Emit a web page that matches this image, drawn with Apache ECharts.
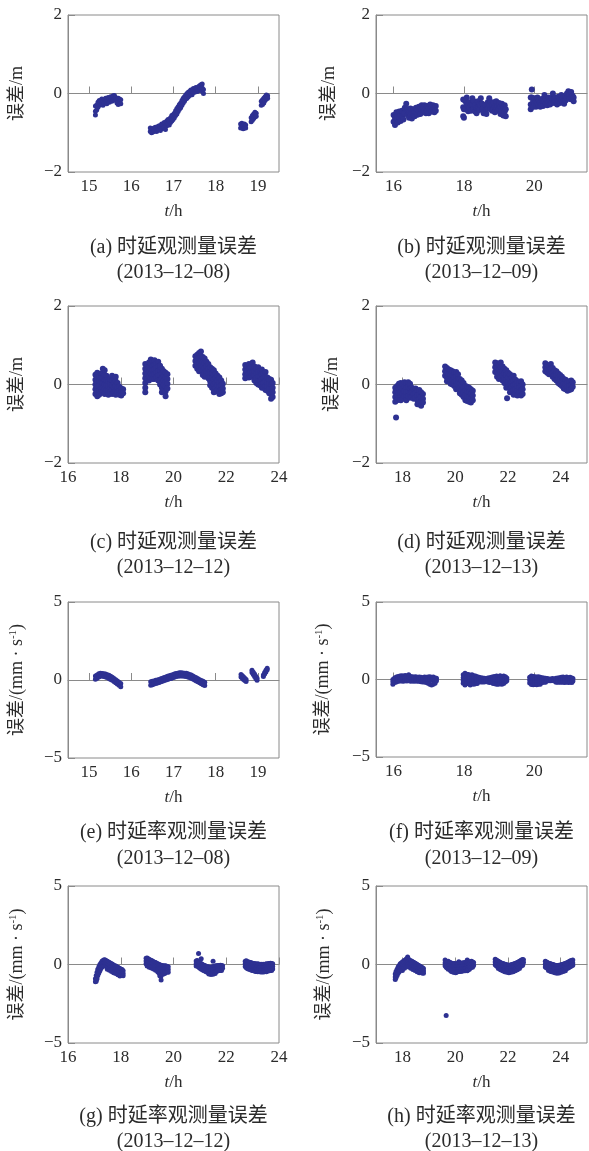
<!DOCTYPE html>
<html>
<head>
<meta charset="utf-8">
<script src="https://cdn.jsdelivr.net/npm/echarts@6/dist/echarts.min.js"></script>
<style>
html,body{margin:0;padding:0;background:#fff;}
#chart{width:589px;height:1151px;}
</style>
</head>
<body>
<div id="chart"></div>
<script>
// ---- DATA: each column = [t (h), error values read at that time ...] ----
const delay1208 = [
  [15.15,-0.32,-0.45,-0.55],[15.18,-0.30,-0.42],[15.21,-0.22,-0.35],[15.24,-0.18,-0.30],[15.27,-0.20,-0.28],
  [15.30,-0.14,-0.26],[15.33,-0.20,-0.30],[15.36,-0.15,-0.24],[15.39,-0.12,-0.22],[15.42,-0.16,-0.26],
  [15.45,-0.10,-0.20],[15.48,-0.13,-0.22],[15.51,-0.08,-0.18],[15.54,-0.12,-0.20],[15.57,-0.06,-0.16],
  [15.60,-0.05,-0.14],[15.63,-0.10,-0.18],[15.66,-0.14,-0.24],[15.69,-0.12,-0.28],[15.72,-0.14,-0.22],[15.75,-0.16,-0.26],
  [16.45,-0.88,-0.97],[16.48,-0.92,-1.00],[16.51,-0.90,-0.98],[16.54,-0.88,-0.96],[16.57,-0.86,-0.95],
  [16.60,-0.88,-0.97],[16.63,-0.84,-0.93],[16.66,-0.82,-0.92],[16.69,-0.85,-0.94],[16.72,-0.78,-0.90],
  [16.75,-0.80,-0.88],[16.78,-0.74,-0.86],[16.81,-0.76,-0.92],[16.84,-0.70,-0.82],[16.87,-0.66,-0.78],
  [16.90,-0.68,-0.80],[16.93,-0.62,-0.74],[16.96,-0.56,-0.70],[16.99,-0.54,-0.66],[17.02,-0.50,-0.62],
  [17.05,-0.44,-0.56],[17.08,-0.38,-0.52],[17.11,-0.34,-0.46],[17.14,-0.28,-0.40],[17.17,-0.24,-0.36],
  [17.20,-0.18,-0.30],[17.23,-0.12,-0.24],[17.26,-0.08,-0.20],[17.29,-0.04,-0.14],[17.32,0.00,-0.12],
  [17.35,0.03,-0.08],[17.38,0.05,-0.05],[17.41,0.09,-0.01],[17.44,0.07,-0.03],[17.47,0.13,0.03],
  [17.50,0.11,0.03],[17.53,0.15,0.05],[17.56,0.13,0.05],[17.59,0.17,0.07],[17.62,0.20,0.10],
  [17.65,0.22,0.12],[17.68,0.24,0.14,0.06],[17.71,0.10,0.00],
  [18.59,-0.78,-0.88],[18.62,-0.76,-0.86],[18.65,-0.80,-0.90],[18.68,-0.78,-0.88],[18.71,-0.80,-0.88],
  [18.84,-0.62,-0.72],[18.87,-0.56,-0.68],[18.90,-0.52,-0.64],[18.93,-0.48,-0.60],[18.96,-0.50,-0.58],
  [19.08,-0.20,-0.30],[19.11,-0.16,-0.28],[19.14,-0.12,-0.24],[19.17,-0.08,-0.18],[19.20,-0.04,-0.14],[19.23,-0.06,-0.12]
];
const delay1209 = [
  [16.00,-0.55,-0.72],[16.04,-0.62,-0.80],[16.08,-0.48,-0.62],[16.12,-0.58,-0.74],[16.16,-0.46,-0.60],
  [16.20,-0.55,-0.70],[16.24,-0.44,-0.58],[16.28,-0.50,-0.66],[16.32,-0.36,-0.50],[16.36,-0.26,-0.40],
  [16.40,-0.40,-0.55],[16.44,-0.48,-0.62],[16.48,-0.38,-0.52],[16.52,-0.50,-0.64],[16.56,-0.40,-0.54],
  [16.60,-0.48,-0.58],[16.64,-0.36,-0.48],[16.68,-0.42,-0.54],[16.72,-0.34,-0.46],[16.76,-0.40,-0.52],
  [16.80,-0.30,-0.42],[16.84,-0.36,-0.48],[16.88,-0.30,-0.44],[16.92,-0.38,-0.50],[16.96,-0.32,-0.44],
  [17.00,-0.36,-0.50],[17.04,-0.28,-0.40],[17.08,-0.34,-0.46],[17.12,-0.30,-0.42],[17.16,-0.36,-0.48],[17.20,-0.32,-0.44],
  [17.98,-0.15,-0.35,-0.58],[18.00,-0.40,-0.62],[18.04,-0.20,-0.40],[18.08,-0.10,-0.30],[18.12,-0.30,-0.45],
  [18.16,-0.22,-0.36],[18.20,-0.30,-0.44],[18.24,-0.12,-0.28],[18.28,-0.20,-0.38],[18.32,-0.30,-0.46],
  [18.36,-0.36,-0.50],[18.40,-0.20,-0.36],[18.44,-0.28,-0.42],[18.48,-0.12,-0.30],[18.52,-0.26,-0.40],
  [18.56,-0.36,-0.50],[18.60,-0.30,-0.44],[18.64,-0.40,-0.52],[18.68,-0.22,-0.38],[18.72,-0.12,-0.28],
  [18.76,-0.22,-0.40],[18.80,-0.30,-0.44],[18.84,-0.22,-0.38],[18.88,-0.34,-0.48],[18.92,-0.20,-0.36],
  [18.96,-0.32,-0.44],[19.00,-0.24,-0.40],[19.04,-0.34,-0.52],[19.08,-0.26,-0.44],[19.12,-0.36,-0.56],
  [19.16,-0.30,-0.46],[19.19,-0.40,-0.58],
  [19.90,-0.10,-0.28,-0.40],[19.93,0.10,-0.10,-0.30],[19.97,-0.20,-0.34],[20.01,-0.12,-0.26],[20.05,-0.22,-0.34],
  [20.09,-0.10,-0.24],[20.13,-0.18,-0.30],[20.17,-0.22,-0.34],[20.21,-0.14,-0.26],[20.25,-0.20,-0.32],
  [20.29,-0.04,-0.20],[20.33,-0.14,-0.26],[20.37,-0.18,-0.30],[20.41,-0.10,-0.22],[20.45,-0.18,-0.28],
  [20.49,-0.12,-0.24],[20.53,0.00,-0.16],[20.57,-0.14,-0.24],[20.61,-0.10,-0.20],[20.65,-0.18,-0.28],
  [20.69,-0.08,-0.20],[20.73,-0.14,-0.24],[20.77,-0.04,-0.16],[20.81,-0.12,-0.22],[20.85,-0.16,-0.26],
  [20.89,-0.08,-0.18],[20.93,0.00,-0.12],[20.97,0.06,-0.08],[21.01,-0.04,-0.14],[21.05,0.04,-0.10],
  [21.09,-0.06,-0.16],[21.12,-0.10,-0.20]
];
const delay1212 = [
  [17.04,0.25,0.12,0.00,-0.12,-0.24],[17.11,0.30,0.18,0.06,-0.06,-0.18,-0.30],[17.18,0.20,0.08,-0.04,-0.16,-0.26],
  [17.25,0.28,0.16,0.04,-0.08,-0.20],[17.32,0.40,0.28,0.16,0.04,-0.08,-0.18],[17.39,0.36,0.24,0.12,0.00,-0.12,-0.24],
  [17.46,0.22,0.10,-0.02,-0.14],[17.53,0.08,-0.04,-0.16,-0.26],[17.60,0.14,0.02,-0.10,-0.20],
  [17.67,0.22,0.10,-0.02,-0.14,-0.24],[17.74,0.16,0.04,-0.08,-0.20],[17.81,0.20,0.08,-0.04,-0.16,-0.26],
  [17.88,0.04,-0.08,-0.20],[17.95,-0.06,-0.16,-0.26],[18.02,-0.10,-0.20,-0.28],[18.09,-0.12,-0.22],
  [18.93,0.52,0.40,0.28,0.16,0.04,-0.08,-0.20],[19.00,0.50,0.38,0.26,0.14],[19.07,0.56,0.44,0.32,0.20,0.10],
  [19.14,0.64,0.52,0.40,0.28,0.16],[19.21,0.60,0.48,0.36,0.24,0.14],[19.28,0.62,0.50,0.38,0.26,0.14],
  [19.35,0.54,0.42,0.30,0.18],[19.42,0.58,0.46,0.34,0.22,0.10],[19.49,0.48,0.36,0.24,0.12,0.00],
  [19.56,0.40,0.28,0.16,0.04,-0.08,-0.20],[19.63,0.34,0.22,0.10,-0.02,-0.14],[19.70,0.30,0.18,0.06,-0.06,-0.18,-0.30],
  [19.77,0.26,0.14,0.02,-0.10],
  [20.83,0.72,0.60,0.48],[20.90,0.76,0.64,0.52,0.40],[20.97,0.80,0.68,0.56,0.44,0.34],[21.04,0.84,0.72,0.60,0.48,0.36],
  [21.11,0.70,0.58,0.46,0.34,0.24],[21.18,0.66,0.54,0.42,0.30,0.20],[21.25,0.58,0.46,0.34,0.22],
  [21.32,0.52,0.40,0.28,0.16],[21.39,0.44,0.32,0.20,0.08,-0.02],[21.46,0.40,0.28,0.16,0.04,-0.08],
  [21.53,0.36,0.24,0.12,0.00,-0.12,-0.20],[21.60,0.28,0.16,0.04,-0.08,-0.18],[21.67,0.22,0.10,-0.02,-0.14],
  [21.74,0.18,0.06,-0.06,-0.18,-0.24],[21.81,0.10,-0.02,-0.14,-0.22],[21.87,0.02,-0.10,-0.20],
  [22.72,0.50,0.38,0.26,0.16],[22.79,0.46,0.34,0.22],[22.86,0.52,0.40,0.28,0.18],[22.93,0.44,0.32,0.20],
  [23.00,0.56,0.44,0.32,0.20],[23.07,0.46,0.34,0.22,0.10],[23.14,0.40,0.28,0.16,0.04],[23.21,0.44,0.32,0.20,0.08,0.00],
  [23.28,0.34,0.22,0.10,-0.02],[23.35,0.38,0.26,0.14,0.02,-0.08],[23.42,0.28,0.16,0.04,-0.08],
  [23.49,0.32,0.20,0.08,-0.04,-0.14],[23.56,0.18,0.06,-0.06,-0.16],[23.63,0.14,0.02,-0.10,-0.22],
  [23.70,0.12,0.00,-0.12,-0.24,-0.36],[23.76,0.04,-0.08,-0.20,-0.32]
];
const delay1213 = [
  [17.73,-0.08,-0.20,-0.32,-0.44],[17.76,-0.84],[17.80,-0.04,-0.16,-0.28,-0.40],[17.87,0.02,-0.10,-0.22,-0.34],
  [17.94,0.04,-0.08,-0.20,-0.32,-0.40],[18.01,0.00,-0.12,-0.24,-0.36],[18.08,0.06,-0.06,-0.18,-0.30],
  [18.15,0.04,-0.08,-0.20,-0.32,-0.40],[18.22,0.06,-0.06,-0.18,-0.30],[18.29,0.02,-0.10,-0.22,-0.34],
  [18.36,-0.08,-0.20,-0.32],[18.43,-0.12,-0.24,-0.36],[18.50,-0.10,-0.22,-0.34],[18.57,-0.16,-0.28,-0.40,-0.50],
  [18.64,-0.14,-0.26,-0.38,-0.50],[18.71,-0.20,-0.32,-0.44,-0.54],[18.78,-0.24,-0.36,-0.46],
  [19.62,0.46,0.34,0.22],[19.69,0.42,0.30,0.18,0.08],[19.76,0.38,0.26,0.14],[19.83,0.36,0.24,0.12,0.02],
  [19.90,0.34,0.22,0.10,0.00],[19.97,0.30,0.18,0.06,-0.04],[20.04,0.32,0.20,0.08,-0.04,-0.12],
  [20.11,0.26,0.14,0.02,-0.10],[20.18,0.14,0.02,-0.10,-0.22],[20.25,0.10,-0.02,-0.14,-0.26],
  [20.32,0.04,-0.08,-0.20,-0.32],[20.39,-0.04,-0.16,-0.28,-0.40],[20.46,-0.06,-0.18,-0.30,-0.42],
  [20.53,-0.08,-0.20,-0.32,-0.44],[20.60,-0.12,-0.24,-0.36,-0.46],[20.67,-0.16,-0.28,-0.40],
  [21.52,0.56,0.44,0.32],[21.59,0.54,0.42,0.30,0.20],[21.66,0.50,0.38,0.26,0.14],[21.73,0.56,0.44,0.32,0.20],
  [21.80,0.46,0.34,0.22,0.10],[21.87,0.40,0.28,0.16,0.04],[21.94,0.36,0.24,0.12,0.00,-0.08],[21.97,-0.35],
  [22.01,0.30,0.18,0.06,-0.06],[22.08,0.26,0.14,0.02,-0.10,-0.20],[22.15,0.18,0.06,-0.06,-0.18],
  [22.22,0.22,0.10,-0.02,-0.14,-0.26],[22.29,0.12,0.00,-0.12,-0.24],[22.36,0.08,-0.04,-0.16,-0.28],
  [22.43,0.04,-0.08,-0.20],[22.50,0.08,-0.04,-0.16,-0.28],[22.56,0.00,-0.12,-0.24],
  [23.42,0.54,0.44,0.34],[23.49,0.50,0.40,0.30],[23.56,0.48,0.36,0.26],[23.63,0.52,0.40,0.28],
  [23.70,0.42,0.30,0.20],[23.77,0.36,0.24,0.14],[23.84,0.34,0.22,0.10],[23.91,0.28,0.16,0.04],
  [23.98,0.24,0.12,0.00],[24.05,0.20,0.08,-0.04],[24.12,0.14,0.02,-0.10],[24.19,0.12,0.00,-0.12],
  [24.26,0.06,-0.06,-0.16],[24.33,0.08,-0.04,-0.14],[24.40,0.10,-0.02,-0.12],[24.46,0.06,-0.06]
];
const rate1208 = [
  [15.15,0.25,0.05],[15.19,0.32,0.12],[15.23,0.40,0.20],[15.27,0.44,0.24],[15.31,0.42,0.26],[15.35,0.40,0.22],
  [15.39,0.38,0.20],[15.43,0.34,0.16],[15.47,0.30,0.10],[15.51,0.24,0.04],[15.55,0.18,-0.02],[15.59,0.10,-0.10],
  [15.63,0.02,-0.18],[15.67,-0.06,-0.26],[15.71,-0.14,-0.34],[15.75,-0.22,-0.44],
  [16.46,-0.12,-0.34],[16.50,-0.08,-0.30],[16.54,-0.06,-0.26],[16.58,-0.02,-0.22],[16.62,0.00,-0.20],
  [16.66,0.04,-0.16],[16.70,0.08,-0.12],[16.74,0.12,-0.08],[16.78,0.16,-0.04],[16.82,0.20,0.00],
  [16.86,0.24,0.04],[16.90,0.28,0.08],[16.94,0.30,0.10],[16.98,0.34,0.14],[17.02,0.38,0.18],
  [17.06,0.42,0.22],[17.10,0.44,0.24],[17.14,0.46,0.26],[17.18,0.46,0.26],[17.22,0.45,0.25],
  [17.26,0.44,0.24],[17.30,0.43,0.23],[17.34,0.40,0.20],[17.38,0.36,0.16],[17.42,0.32,0.12],
  [17.46,0.26,0.06],[17.50,0.20,0.00],[17.54,0.14,-0.06],[17.58,0.08,-0.12],[17.62,0.02,-0.18],
  [17.66,-0.04,-0.24],[17.70,-0.08,-0.30],[17.74,-0.14,-0.36],
  [18.60,0.36,0.20],[18.63,0.28,0.12],[18.66,0.20,0.04],[18.69,0.12,-0.04],[18.72,0.04,-0.10],
  [18.86,0.62,0.48],[18.89,0.50,0.36],[18.92,0.38,0.22],[18.95,0.24,0.10],[18.98,0.12,-0.02],
  [19.13,0.22,0.32],[19.16,0.38,0.48],[19.19,0.52,0.62],[19.22,0.66,0.76]
];
const rate1209 = [
  [15.98,0.00,-0.15,-0.30],[16.03,0.10,-0.05,-0.20],[16.08,0.16,0.00,-0.16],[16.13,0.20,0.04,-0.12],
  [16.18,0.22,0.06,-0.10],[16.23,0.24,0.08,-0.10],[16.28,0.22,0.06,-0.12],[16.33,0.26,0.10,-0.08],
  [16.38,0.22,0.06,-0.10],[16.43,0.30,0.12,-0.06],[16.48,0.20,0.04,-0.12],[16.53,0.18,0.02,-0.10],
  [16.58,0.16,0.02,-0.12],[16.63,0.18,0.04,-0.10],[16.68,0.14,0.00,-0.12],[16.73,0.16,0.02,-0.12],
  [16.78,0.14,0.00,-0.14],[16.83,0.12,-0.02,-0.16],[16.88,0.16,0.00,-0.16],[16.93,0.14,-0.02,-0.20],
  [16.98,0.16,-0.02,-0.24],[17.03,0.18,0.00,-0.30],[17.08,0.14,-0.04,-0.36],[17.13,0.16,-0.02,-0.30],
  [17.18,0.10,-0.06,-0.24],[17.22,0.08,-0.08],
  [17.98,0.30,0.12,-0.06,-0.24],[18.03,0.40,0.20,0.00,-0.20,-0.36],[18.08,0.34,0.14,-0.06,-0.26],
  [18.13,0.32,0.12,-0.08,-0.28],[18.18,0.28,0.10,-0.08,-0.26,-0.36],[18.23,0.30,0.10,-0.10,-0.28],
  [18.28,0.24,0.06,-0.12,-0.30],[18.33,0.22,0.04,-0.14,-0.28],[18.38,0.18,0.02,-0.14,-0.26],
  [18.43,0.14,0.00,-0.14],[18.48,0.12,-0.02,-0.16],[18.53,0.10,-0.04,-0.16],[18.58,0.08,-0.06,-0.16],
  [18.63,0.06,-0.08],[18.68,0.10,-0.04,-0.16],[18.73,0.12,-0.04,-0.20],[18.78,0.14,-0.02,-0.18],
  [18.83,0.18,0.02,-0.16,-0.26],[18.88,0.20,0.04,-0.14,-0.28],[18.93,0.22,0.04,-0.14,-0.30],
  [18.98,0.18,0.02,-0.16,-0.30],[19.03,0.24,0.06,-0.12,-0.28],[19.08,0.20,0.02,-0.16,-0.30],
  [19.13,0.22,0.04,-0.14,-0.26],[19.18,0.18,0.02,-0.16],[19.22,0.10,-0.08],
  [19.87,0.14,-0.04,-0.22],[19.92,0.22,0.04,-0.14,-0.32],[19.97,0.20,0.02,-0.16,-0.34],
  [20.02,0.18,0.00,-0.18,-0.32],[20.07,0.16,-0.02,-0.20,-0.34],[20.12,0.18,0.00,-0.18,-0.30],
  [20.17,0.14,-0.02,-0.18,-0.30],[20.22,0.12,-0.04,-0.20],[20.27,0.10,-0.04,-0.18],[20.32,0.08,-0.06,-0.18],
  [20.37,0.06,-0.08],[20.42,0.04,-0.08],[20.47,0.04,-0.08],[20.52,0.06,-0.06],[20.57,0.04,-0.10],
  [20.62,0.08,-0.06,-0.18],[20.67,0.10,-0.06,-0.18],[20.72,0.12,-0.04,-0.18],[20.77,0.14,-0.02,-0.18],
  [20.82,0.16,0.00,-0.18],[20.87,0.12,-0.04,-0.20],[20.92,0.16,0.00,-0.16],[20.97,0.12,-0.04,-0.20],
  [21.02,0.14,-0.02,-0.18],[21.07,0.10,-0.06,-0.20],[21.10,0.06,-0.10]
];
const rate1212 = [
  [17.04,-0.90,-1.10],[17.07,-0.70,-0.90,-1.06],[17.10,-0.50,-0.70,-0.90],[17.13,-0.30,-0.50,-0.70],
  [17.17,-0.14,-0.34,-0.54],[17.21,0.00,-0.20,-0.40],[17.25,0.10,-0.08,-0.26],[17.29,0.20,0.02,-0.16],
  [17.33,0.26,0.08,-0.10],[17.37,0.30,0.12,-0.06],[17.41,0.28,0.10,-0.08],[17.45,0.24,0.06,-0.12],
  [17.49,0.20,0.02,-0.16,-0.30],[17.53,0.16,-0.02,-0.20],[17.57,0.12,-0.06,-0.24,-0.36],[17.61,0.08,-0.10,-0.28],
  [17.65,0.04,-0.14,-0.32,-0.44],[17.69,0.02,-0.16,-0.34],[17.73,-0.04,-0.22,-0.40,-0.52],[17.77,-0.08,-0.26,-0.44],
  [17.81,-0.10,-0.28,-0.46,-0.58],[17.85,-0.14,-0.32,-0.50],[17.89,-0.18,-0.36,-0.54,-0.66],[17.93,-0.22,-0.40,-0.58],
  [17.97,-0.26,-0.44,-0.62,-0.74],[18.01,-0.30,-0.48,-0.66],[18.05,-0.32,-0.50,-0.68],[18.09,-0.40,-0.58,-0.72],
  [18.96,0.40,0.22,0.04],[19.00,0.42,0.24,0.06,-0.10],[19.04,0.36,0.18,0.00],[19.08,0.32,0.14,-0.04,-0.18],
  [19.12,0.28,0.10,-0.08],[19.16,0.26,0.08,-0.10,-0.22],[19.20,0.22,0.04,-0.14],[19.24,0.18,0.00,-0.18,-0.28],
  [19.28,0.14,-0.04,-0.22],[19.32,0.12,-0.06,-0.24,-0.36],[19.36,0.08,-0.10,-0.28],[19.40,0.04,-0.14,-0.32,-0.46],
  [19.44,0.02,-0.16,-0.34,-0.52],[19.48,-0.02,-0.20,-0.38,-0.56,-0.72],[19.52,-0.04,-0.22,-0.40,-0.58,-0.76],
  [19.53,-0.98],[19.56,-0.06,-0.24,-0.42,-0.60],[19.60,-0.08,-0.26,-0.44,-0.62],[19.64,-0.10,-0.28,-0.46,-0.58],
  [19.68,-0.08,-0.26,-0.44,-0.56],[19.72,-0.10,-0.28,-0.46],[19.76,-0.12,-0.30,-0.48],[19.80,-0.14,-0.32,-0.50],
  [20.86,0.22,0.04,-0.10],[20.90,0.26,0.08,-0.08],[20.95,0.70],[20.94,0.18,0.00,-0.14],[20.98,0.12,-0.06,-0.20],
  [21.02,0.08,-0.10,-0.26],[21.05,0.36],[21.06,0.04,-0.14,-0.30],[21.10,0.00,-0.18,-0.34],[21.14,-0.04,-0.22,-0.38],
  [21.18,-0.06,-0.24,-0.40],[21.22,-0.10,-0.28,-0.44],[21.26,-0.12,-0.30,-0.48],[21.30,-0.14,-0.32,-0.50],
  [21.34,-0.16,-0.34,-0.52,-0.60],[21.38,-0.18,-0.36,-0.54],[21.42,-0.18,-0.36,-0.56,-0.64],[21.46,-0.16,-0.34,-0.54],
  [21.50,0.20,-0.14,-0.32,-0.52,-0.62],[21.54,-0.12,-0.30,-0.50],[21.58,-0.10,-0.28,-0.48,-0.58],[21.62,-0.08,-0.26,-0.44],
  [21.66,-0.08,-0.24,-0.42],[21.70,-0.06,-0.22,-0.40],[21.74,-0.06,-0.22,-0.38],[21.78,-0.04,-0.20,-0.36],
  [21.82,-0.06,-0.22,-0.38],[21.86,-0.08,-0.24],
  [22.72,0.20,0.04,-0.12],[22.76,0.24,0.08,-0.08,-0.20],[22.80,0.18,0.02,-0.14,-0.26],[22.84,0.16,0.00,-0.16,-0.28],
  [22.88,0.14,-0.02,-0.18,-0.30],[22.92,0.12,-0.04,-0.20,-0.32],[22.96,0.10,-0.06,-0.22,-0.36],[23.00,0.08,-0.08,-0.24,-0.38],
  [23.04,0.06,-0.10,-0.26,-0.40],[23.08,0.04,-0.12,-0.28,-0.42],[23.12,0.04,-0.12,-0.28,-0.44],[23.16,0.02,-0.14,-0.30,-0.44],
  [23.20,0.04,-0.12,-0.28,-0.46],[23.24,0.02,-0.14,-0.30,-0.44],[23.28,0.00,-0.16,-0.32,-0.46],[23.32,0.02,-0.14,-0.30,-0.48],
  [23.36,0.00,-0.16,-0.32,-0.46],[23.40,0.02,-0.14,-0.30,-0.48],[23.44,0.00,-0.16,-0.32,-0.46],[23.48,0.02,-0.14,-0.30,-0.44],
  [23.52,0.04,-0.12,-0.28,-0.46],[23.56,0.02,-0.14,-0.30,-0.42],[23.60,0.06,-0.10,-0.26,-0.40],[23.64,0.04,-0.12,-0.28,-0.40],
  [23.68,0.08,-0.08,-0.24,-0.36],[23.72,0.06,-0.10,-0.26,-0.38],[23.76,0.04,-0.12,-0.28]
];
const rate1213 = [
  [17.73,-0.60,-0.80,-0.96],[17.76,-0.44,-0.64,-0.84],[17.80,-0.30,-0.50,-0.70],[17.84,-0.16,-0.36,-0.56],
  [17.88,-0.06,-0.26,-0.46],[17.92,0.04,-0.16,-0.36],[17.96,0.10,-0.08,-0.28],[18.00,0.16,-0.02,-0.20,-0.38],
  [18.04,0.20,0.02,-0.16],[18.08,0.26,0.08,-0.10,-0.24],[18.12,0.30,0.12,-0.06],[18.16,0.36,0.18,0.00,-0.14],
  [18.20,0.48,0.30,0.12,-0.06],[18.24,0.34,0.16,-0.02,-0.16],[18.28,0.26,0.08,-0.10],[18.32,0.24,0.06,-0.12,-0.24],
  [18.36,0.20,0.02,-0.16],[18.40,0.16,-0.02,-0.20,-0.32],[18.44,0.12,-0.06,-0.24],[18.48,0.08,-0.10,-0.28,-0.38],
  [18.52,0.04,-0.14,-0.32],[18.56,0.00,-0.18,-0.36,-0.46],[18.60,-0.04,-0.22,-0.40],[18.64,-0.08,-0.26,-0.44,-0.52],
  [18.68,-0.12,-0.30,-0.48],[18.72,-0.16,-0.34,-0.52],[18.76,-0.20,-0.38,-0.54],[18.80,-0.26,-0.42,-0.56],
  [19.62,0.28,0.10,-0.08],[19.66,-3.25],[19.66,0.18,0.00,-0.18],[19.70,0.14,-0.04,-0.22],[19.74,0.20,0.02,-0.16,-0.30],
  [19.78,0.10,-0.08,-0.26],[19.82,0.12,-0.06,-0.24,-0.38],[19.86,0.08,-0.10,-0.28,-0.44],[19.90,0.06,-0.12,-0.30,-0.46],
  [19.94,0.04,-0.14,-0.32,-0.50],[19.98,0.06,-0.12,-0.30,-0.48],[20.02,0.02,-0.16,-0.34,-0.52],[20.06,0.04,-0.14,-0.32,-0.48],
  [20.10,0.06,-0.12,-0.30,-0.46],[20.14,0.18,0.02,-0.14,-0.32,-0.44],[20.18,0.06,-0.12,-0.30,-0.42],[20.22,0.08,-0.10,-0.28,-0.44],
  [20.26,0.10,-0.08,-0.26,-0.40],[20.30,0.08,-0.10,-0.28,-0.42],[20.34,0.12,-0.06,-0.24,-0.38],[20.38,0.10,-0.08,-0.26,-0.40],
  [20.42,0.14,-0.04,-0.22,-0.36],[20.46,0.28,0.10,-0.08,-0.26,-0.40],[20.50,0.16,-0.02,-0.20,-0.34],[20.54,0.18,0.00,-0.18,-0.30],
  [20.58,0.14,-0.04,-0.22],[20.62,0.20,0.02,-0.16],[20.66,0.16,-0.02,-0.18],[20.70,0.12,-0.06],
  [21.52,0.34,0.16,-0.02],[21.56,0.28,0.10,-0.08],[21.60,0.24,0.06,-0.12],[21.64,0.20,0.02,-0.16,-0.26],
  [21.68,0.16,-0.02,-0.20],[21.72,0.12,-0.06,-0.24,-0.34],[21.76,0.08,-0.10,-0.28],[21.80,0.06,-0.12,-0.30,-0.40],
  [21.84,0.04,-0.14,-0.32],[21.88,0.02,-0.16,-0.34,-0.46],[21.92,0.00,-0.18,-0.36],[21.96,-0.02,-0.20,-0.38,-0.50],
  [22.00,-0.04,-0.22,-0.40],[22.04,-0.04,-0.22,-0.40,-0.52],[22.08,-0.04,-0.22,-0.40],[22.12,-0.02,-0.20,-0.38,-0.50],
  [22.16,0.00,-0.18,-0.36],[22.20,0.02,-0.16,-0.34,-0.46],[22.24,0.04,-0.14,-0.32],[22.28,0.06,-0.12,-0.30,-0.40],
  [22.32,0.10,-0.08,-0.26],[22.36,0.12,-0.06,-0.24,-0.34],[22.40,0.16,-0.02,-0.20],[22.44,0.20,0.02,-0.16,-0.26],
  [22.48,0.24,0.06,-0.12],[22.52,0.28,0.10,-0.08],[22.56,0.32,0.14,-0.04],[22.59,0.30,0.12],
  [23.42,0.20,0.02,-0.16],[23.46,0.16,-0.02,-0.20],[23.50,0.12,-0.06,-0.24],[23.54,0.08,-0.10,-0.28,-0.38],
  [23.58,0.06,-0.12,-0.30],[23.62,0.04,-0.14,-0.32,-0.44],[23.66,0.02,-0.16,-0.34],[23.70,0.00,-0.18,-0.36,-0.48],
  [23.74,-0.02,-0.20,-0.38],[23.78,-0.04,-0.22,-0.40,-0.52],[23.82,-0.06,-0.24,-0.42],[23.86,-0.06,-0.24,-0.42,-0.56],
  [23.90,-0.06,-0.24,-0.42],[23.94,-0.04,-0.22,-0.40,-0.54],[23.98,-0.04,-0.22,-0.40],[24.02,-0.02,-0.20,-0.38,-0.50],
  [24.06,0.00,-0.18,-0.36],[24.10,0.02,-0.16,-0.34,-0.44],[24.14,0.04,-0.14,-0.32],[24.18,0.06,-0.12,-0.30,-0.40],
  [24.22,0.10,-0.08,-0.26],[24.26,0.12,-0.06,-0.24],[24.30,0.16,-0.02,-0.20],[24.34,0.20,0.02,-0.16],
  [24.38,0.24,0.06,-0.12],[24.42,0.26,0.08,-0.08],[24.46,0.28,0.10,-0.04]
];

// axis ranges and tick labels
const xMin = [14.5, 15.5, 16, 17, 14.5, 15.5, 16, 17];
const xMax = [19.5, 21.5, 24, 25, 19.5, 21.5, 24, 25];
const xTicks = [[15,16,17,18,19],[16,18,20],[16,18,20,22,24],[18,20,22,24],
                [15,16,17,18,19],[16,18,20],[16,18,20,22,24],[18,20,22,24]];
const delayTicks = [-2, 0, 2];
const rateTicks = [-5, 0, 5];
const captions = ['(a) 时延观测量误差','(b) 时延观测量误差','(c) 时延观测量误差','(d) 时延观测量误差',
                  '(e) 时延率观测量误差','(f) 时延率观测量误差','(g) 时延率观测量误差','(h) 时延率观测量误差'];
const dates = ['(2013–12–08)','(2013–12–09)','(2013–12–12)','(2013–12–13)',
               '(2013–12–08)','(2013–12–09)','(2013–12–12)','(2013–12–13)'];
const panelData = [delay1208, delay1209, delay1212, delay1213, rate1208, rate1209, rate1212, rate1213];

// ---- LAYOUT ----
const grids = [
  {left:68, top:15, width:211, height:157},
  {left:376, top:15, width:211, height:157},
  {left:68, top:306, width:211, height:157},
  {left:376, top:306, width:211, height:157},
  {left:68, top:602, width:211, height:156},
  {left:376, top:602, width:211, height:155},
  {left:68, top:886, width:211, height:157},
  {left:376, top:886, width:211, height:157}
];
const yNameGap = [42, 38, 42, 35, 41, 43, 41, 42];
const symbolSizes = [5, 6, 6, 6, 5, 5, 5, 5];
const capY = [[248,273],[248,273],[543,568],[543,568],[833,859],[833,859],[1117,1142],[1117,1142]];

const SERIF = "'Liberation Serif','Noto Sans CJK SC',serif";
const AX = '#8a8a8a';
const TXT = '#2b2b2b';
const DOT = '#2e3192';

function flatten(cols){
  const out = [];
  cols.forEach(c => { for (let i = 1; i < c.length; i++) out.push([c[0], c[i]]); });
  return out;
}
const minus = v => String(v).replace('-', '\u2212');

const option = {
  animation: false,
  backgroundColor: '#fff',
  grid: grids.map(g => Object.assign({show:true, borderColor:AX, borderWidth:1, backgroundColor:'transparent'}, g)),
  xAxis: grids.map((g, i) => ({
    gridIndex: i, type: 'value', min: xMin[i], max: xMax[i],
    axisLine: {show: true, lineStyle: {color: AX, width: 1}},
    axisTick: {show: true, inside: true, length: 7, customValues: xTicks[i], lineStyle: {color: AX}},
    axisLabel: {show: true, customValues: xTicks[i], showMinLabel: true, showMaxLabel: true,
      margin: 6, fontFamily: SERIF, fontSize: 17, color: TXT},
    splitLine: {show: false},
    name: '{it|t}/h', nameLocation: 'middle', nameGap: 31,
    nameTextStyle: {fontFamily: SERIF, fontSize: 17, color: TXT,
      rich: {it: {fontFamily: SERIF, fontSize: 17, fontStyle: 'italic', color: TXT}}}
  })),
  yAxis: grids.map((g, i) => {
    const rate = i >= 4;
    const ticks = rate ? rateTicks : delayTicks;
    return {
      gridIndex: i, type: 'value', min: ticks[0], max: ticks[2], interval: ticks[2],
      axisLine: {show: true, lineStyle: {color: AX, width: 1}},
      axisTick: {show: true, inside: true, length: 7, lineStyle: {color: AX}},
      axisLabel: {margin: 6, fontFamily: SERIF, fontSize: 17, color: TXT, formatter: minus},
      splitLine: {show: false},
      name: rate ? '误差/(mm · s{sup|-1})' : '误差/m',
      nameLocation: 'middle', nameRotate: 90, nameGap: yNameGap[i],
      nameTextStyle: {fontFamily: SERIF, fontSize: 18, color: TXT,
        rich: {sup: {fontFamily: SERIF, fontSize: 11, color: TXT, verticalAlign: 'top', padding: [0,0,8,0]}}}
    };
  }),
  series: panelData.map((d, i) => ({
    type: 'scatter', xAxisIndex: i, yAxisIndex: i,
    data: flatten(d),
    symbol: 'circle', symbolSize: symbolSizes[i],
    itemStyle: {color: DOT, opacity: 1},
    silent: true
  })),
  graphic: grids.flatMap((g, i) => {
    const cx = g.left + g.width / 2;
    return [
      {type: 'text', x: cx, y: capY[i][0], silent: true,
        style: {text: captions[i], fontFamily: SERIF, fontSize: 20, fill: TXT, align: 'center', verticalAlign: 'middle'}},
      {type: 'text', x: cx, y: capY[i][1], silent: true,
        style: {text: dates[i], fontFamily: SERIF, fontSize: 20, fill: TXT, align: 'center', verticalAlign: 'middle'}}
    ];
  })
};

const chart = echarts.init(document.getElementById('chart'), null, {renderer: 'canvas'});
chart.setOption(option);
</script>
</body>
</html>
